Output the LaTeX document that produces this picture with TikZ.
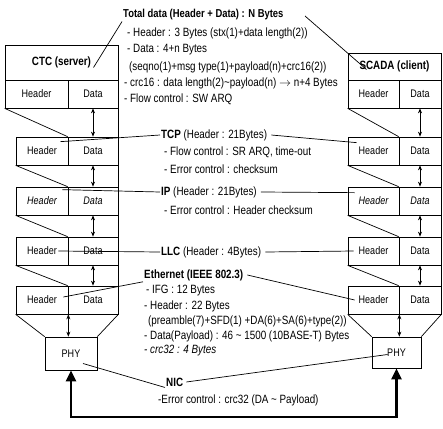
\documentclass[tikz,border=0pt]{standalone}
\usepackage{fontspec}
\setmainfont{Liberation Sans}[FakeStretch=0.82]
\newfontfamily\bcond{Liberation Sans}[FakeStretch=0.82]
\usetikzlibrary{arrows.meta}
\begin{document}
\begin{tikzpicture}[x=1pt,y=-1pt,
  txt/.style={anchor=west, inner sep=1pt, font=\fontsize{12}{14}\selectfont},
  btxt/.style={anchor=west, inner sep=1pt, font=\bcond\bfseries\fontsize{12}{14}\selectfont},
  cell/.style 2 args={draw, line width=0.7pt, inner sep=0pt, minimum width=#1, minimum height=#2, font=\fontsize{11}{12}\selectfont},
  icell/.style={font=\fontsize{11}{12}\selectfont\itshape},
  bcell/.style={font=\bcond\bfseries\fontsize{12}{13}\selectfont},
  ln/.style={line width=0.7pt},
  dar/.style={line width=0.7pt, {Stealth[length=5pt,width=4pt]}-{Stealth[length=5pt,width=4pt]}},
  big/.style={line width=2.5pt, {Triangle[length=11pt,width=10pt]}-{Triangle[length=11pt,width=10pt]}}
]
\fill[white] (0,0) rectangle (443,428);
\useasboundingbox (0,0) rectangle (443,428);

% ---------- left stack ----------
\node[cell={113pt}{35pt}, bcell] (ctc) at (61.5,62.5) {CTC (server)};
\node[cell={63pt}{28pt}] (lhCTC) at (36.5,94) {Header};
\node[cell={50pt}{28pt}] (ldCTC) at (93,94) {Data};
\node[cell={52pt}{28pt}] (lhTCP) at (42,151) {Header};
\node[cell={50pt}{28pt}] (ldTCP) at (93,151) {Data};
\node[cell={52pt}{28pt}, icell] (lhIP) at (42,201) {Header};
\node[cell={50pt}{28pt}, icell] (ldIP) at (93,201) {Data};
\node[cell={52pt}{28pt}] (lhLLC) at (42,251) {Header};
\node[cell={50pt}{28pt}] (ldLLC) at (93,251) {Data};
\node[cell={52pt}{28pt}] (lhEth) at (42,300) {Header};
\node[cell={50pt}{28pt}] (ldEth) at (93,300) {Data};
\node[cell={52pt}{33pt}] (phyL) at (71,353.5) {PHY};

% ---------- right stack ----------
\node[cell={93pt}{27pt}, bcell] (scada) at (394.5,66.5) {SCADA (client)};
\node[cell={51pt}{28pt}] (rhS) at (373.5,94) {Header};
\node[cell={42pt}{28pt}] (rdS) at (420,94) {Data};
\node[cell={51pt}{28pt}] (rhTCP) at (373.5,151) {Header};
\node[cell={42pt}{28pt}] (rdTCP) at (420,151) {Data};
\node[cell={51pt}{28pt}, icell] (rhIP) at (373.5,201) {Header};
\node[cell={42pt}{28pt}, icell] (rdIP) at (420,201) {Data};
\node[cell={51pt}{28pt}] (rhLLC) at (373.5,251) {Header};
\node[cell={42pt}{28pt}] (rdLLC) at (420,251) {Data};
\node[cell={51pt}{28pt}] (rhEth) at (373.5,300) {Header};
\node[cell={42pt}{28pt}] (rdEth) at (420,300) {Data};
\node[cell={49pt}{31pt}] (phyR) at (396.5,352.5) {PHY};

% ---------- encapsulation lines ----------
\draw[ln] (lhCTC.south west) -- (ldTCP.north west);
\draw[ln] (ldCTC.south east) -- (ldTCP.north east);
\draw[dar] (ldCTC.south) -- (ldTCP.north);
\draw[ln] (lhTCP.south west) -- (ldIP.north west);
\draw[ln] (ldTCP.south east) -- (ldIP.north east);
\draw[dar] (ldTCP.south) -- (ldIP.north);
\draw[ln] (lhIP.south west) -- (ldLLC.north west);
\draw[ln] (ldIP.south east) -- (ldLLC.north east);
\draw[dar] (ldIP.south) -- (ldLLC.north);
\draw[ln] (lhLLC.south west) -- (ldEth.north west);
\draw[ln] (ldLLC.south east) -- (ldEth.north east);
\draw[dar] (ldLLC.south) -- (ldEth.north);
\draw[ln] (lhEth.south west) -- (phyL.north west);
\draw[ln] (ldEth.south east) -- (phyL.north east);
\draw[dar] (lhEth.south east) -- (lhEth.south east |- phyL.north);

\draw[ln] (rhS.south west) -- (rdTCP.north west);
\draw[ln] (rdS.south east) -- (rdTCP.north east);
\draw[dar] (rdS.south) -- (rdTCP.north);
\draw[ln] (rhTCP.south west) -- (rdIP.north west);
\draw[ln] (rdTCP.south east) -- (rdIP.north east);
\draw[dar] (rdTCP.south) -- (rdIP.north);
\draw[ln] (rhIP.south west) -- (rdLLC.north west);
\draw[ln] (rdIP.south east) -- (rdLLC.north east);
\draw[dar] (rdIP.south) -- (rdLLC.north);
\draw[ln] (rhLLC.south west) -- (rdEth.north west);
\draw[ln] (rdLLC.south east) -- (rdEth.north east);
\draw[dar] (rdLLC.south) -- (rdEth.north);
\draw[ln] (rhEth.south west) -- (phyR.north west);
\draw[ln] (rdEth.south east) -- (phyR.north east);
\draw[dar] (rhEth.south east) -- (rhEth.south east |- phyR.north);

% ---------- texts ----------
\node[btxt, font=\bcond\bfseries\fontsize{11.5}{14}\selectfont] (total) at (122,15) {Total data (Header + Data) : N Bytes};
\node[txt] (h1) at (126,33) {- Header : 3 Bytes (stx(1)+data length(2))};
\node[txt] (h2) at (126,50) {- Data : 4+n Bytes};
\node[txt] (h3) at (128,67) {(seqno(1)+msg type(1)+payload(n)+crc16(2))};
\node[txt] (h4) at (123,83) {- crc16 : data length(2)\textasciitilde payload(n) $\rightarrow$ n+4 Bytes};
\node[txt] (h5) at (123,99) {- Flow control : SW ARQ};

\node[txt] (tcp) at (160,135) {{\bcond\bfseries TCP} (Header : 21Bytes)};
\node[txt] (t1) at (163,152) {- Flow control : SR ARQ, time-out};
\node[txt] (t2) at (163,169) {- Error control : checksum};

\node[txt] (ip) at (160,192) {{\bcond\bfseries IP} (Header : 21Bytes)};
\node[txt] (i1) at (163,210) {- Error control : Header checksum};

\node[txt] (llc) at (160,252) {{\bcond\bfseries LLC} (Header : 4Bytes)};

\node[btxt] (eth) at (143,275) {Ethernet (IEEE 802.3)};
\node[txt] (e1) at (145,291) {- IFG : 12 Bytes};
\node[txt] (e2) at (143,306) {- Header : 22 Bytes};
\node[txt] (e3) at (147,321) {(preamble(7)+SFD(1) +DA(6)+SA(6)+type(2))};
\node[txt] (e4) at (143,336) {- Data(Payload) : 46 \textasciitilde\ 1500 (10BASE-T) Bytes};
\node[txt, font=\fontsize{12}{14}\selectfont\itshape] (e5) at (143,351) {- crc32 : 4 Bytes};

\node[btxt] (nic) at (165,382) {NIC};
\node[txt] (n1) at (157,400) {-Error control : crc32 (DA \textasciitilde\ Payload)};

% ---------- label connectors ----------
\coordinate (tse) at (305,16);
\draw[ln] (total.south west) -- ([shift={(32pt,-5pt)}]ctc.center);
\draw[ln] (tse) -- ([shift={(-28pt,-3pt)}]scada.center);
\draw[ln] (tcp.west) -- ([shift={(-8pt,-5pt)}]lhTCP.north east);
\draw[ln] ([xshift=3pt]tcp.east) -- ([shift={(9pt,-6pt)}]rhTCP.north west);
\draw[ln] (ip.west) -- ([shift={(-6pt,-3pt)}]lhIP.north east);
\draw[ln] ([xshift=3pt]ip.east) -- ([shift={(7pt,-6pt)}]rhIP.north west);
\draw[ln] (llc.west) -- ([xshift=-10pt]lhLLC.east);
\draw[ln] ([xshift=3pt]llc.east) -- ([xshift=6pt]rhLLC.west);
\draw[ln] (eth.south west) -- ([shift={(-5pt,3pt)}]lhEth.east);
\draw[ln] ([xshift=3pt]eth.east) -- ([xshift=7pt]rhEth.west);
\draw[ln] (nic.south west) -- ([shift={(12pt,-10pt)}]phyL.center);
\draw[ln] ([xshift=2pt]nic.east) -- ([shift={(-9pt,-2pt)}]phyR.center);

% ---------- physical link ----------
\coordinate (bot) at (230,417);
\draw[big] (phyL.south) |- (bot) -| (phyR.south);
\end{tikzpicture}
\end{document}
